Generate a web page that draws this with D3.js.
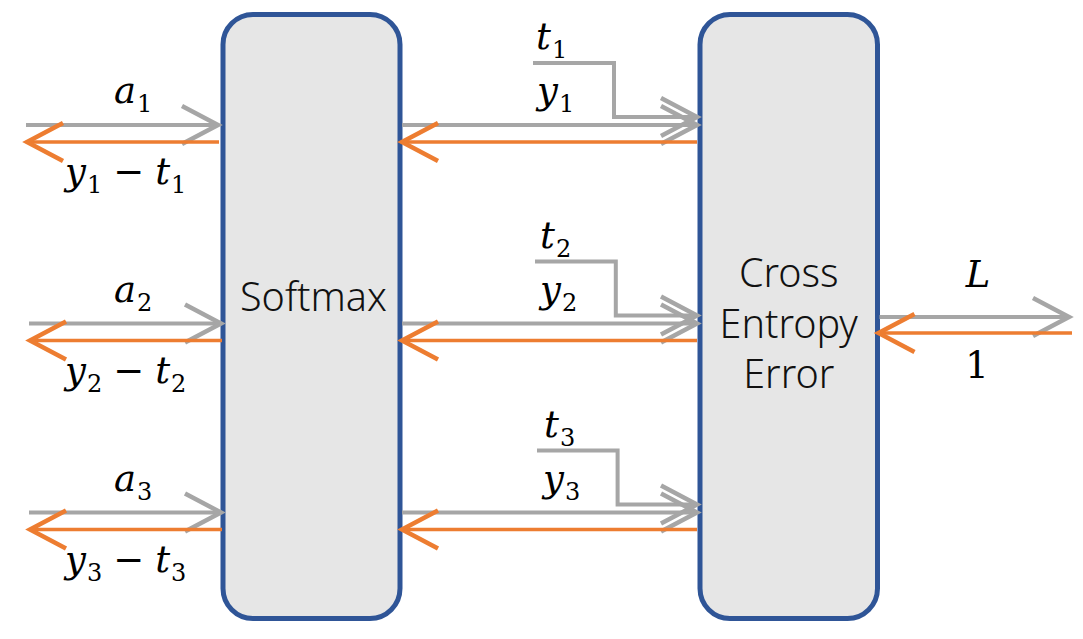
<!DOCTYPE html>
<html>
<head>
<meta charset="utf-8">
<script src="https://cdn.jsdelivr.net/npm/d3@7"></script>
<style>
  html, body { margin: 0; padding: 0; background: #ffffff; }
  svg { display: block; }
</style>
</head>
<body>
<script>
// ---- data ----
const rowIndices = ["1", "2", "3"];
const forwardInputSymbol = "a";
const outputSymbol = "y";
const targetSymbol = "t";
const boxNames = ["Softmax", "Cross Entropy Error"];
const boxLabelLines = [["Softmax"], ["Cross", "Entropy", "Error"]];
const lossLabel = "L";
const lossGradLabel = "1";

// ---- layout ----
const W = 1083, H = 639;
const GRAY = "#a6a6a6", ORANGE = "#ed7d31", BOX_FILL = "#e6e6e6", BOX_STROKE = "#2f5597";
const MATH_FONT = "'DejaVu Serif', serif";
const TEXT_FONT = "'Noto Sans', sans-serif";
const MAIN = 37, SUB = 24, SUBDY = 9;

const svg = d3.select("body").append("svg").attr("width", W).attr("height", H);

const rowY = d3.scaleOrdinal().domain(rowIndices).range([125, 323.5, 512.5]);
const boxX = d3.scaleOrdinal().domain(boxNames).range([[223, 400], [700, 877.5]]);
const boxTop = 14.5, boxBottom = 618.5;
const gradGap = 17; // orange line below gray line
const tGap = 62;    // t line above y line

// boxes
svg.selectAll("rect.box").data(boxNames).join("rect")
  .attr("class", "box")
  .attr("x", d => boxX(d)[0]).attr("y", boxTop)
  .attr("width", d => boxX(d)[1] - boxX(d)[0]).attr("height", boxBottom - boxTop)
  .attr("rx", 30).attr("ry", 30)
  .attr("fill", BOX_FILL).attr("stroke", BOX_STROKE).attr("stroke-width", 5);

// box labels
boxNames.forEach((b, i) => {
  const cx = (boxX(b)[0] + boxX(b)[1]) / 2 + (i === 0 ? 2 : 0);
  const lines = boxLabelLines[i];
  const baseY = i === 0 ? 311 : 287;
  lines.forEach((ln, j) => {
    svg.append("text").attr("x", cx).attr("y", baseY + j * 50.5)
      .attr("text-anchor", "middle")
      .attr("font-family", TEXT_FONT).attr("font-weight", 300).attr("font-size", 39.5)
      .attr("fill", "#111").text(ln);
  });
});

// arrow helper
function arrow(g, x1, y1, x2, y2, color, width, head) {
  g.append("line").attr("x1", x1).attr("y1", y1).attr("x2", x2).attr("y2", y2)
    .attr("stroke", color).attr("stroke-width", width);
  const dir = Math.sign(x2 - x1);
  const hx = 36 * dir, hy = 19;
  g.append("path")
    .attr("d", `M${x2 - hx},${y2 - hy}L${x2},${y2}L${x2 - hx},${y2 + hy}`)
    .attr("fill", "none").attr("stroke", color).attr("stroke-width", head)
    .attr("stroke-linejoin", "miter");
}

// math label helper: parts [{t, type}] type: 'i' italic main, 's' subscript, 'o' operator
function mathLabel(x, y, parts, anchor) {
  const t = svg.append("text").attr("x", x).attr("y", y)
    .attr("font-family", MATH_FONT).attr("fill", "#000")
    .attr("text-anchor", anchor || "start");
  let shifted = false;
  parts.forEach(p => {
    const ts = t.append("tspan").text(p.t);
    if (p.type === "i") {
      ts.attr("font-style", "italic").attr("font-size", MAIN);
      if (shifted) { ts.attr("dy", -SUBDY); shifted = false; }
    } else if (p.type === "s") {
      ts.attr("font-size", SUB).attr("dy", SUBDY).attr("dx", 1);
      shifted = true;
    } else {
      ts.attr("font-size", MAIN).attr("dx", 11);
      if (shifted) { ts.attr("dy", -SUBDY); shifted = false; }
    }
    if (p.dx) ts.attr("dx", p.dx);
  });
  return t;
}

const g = svg.append("g");
const sm = boxX(boxNames[0]), ce = boxX(boxNames[1]);

rowIndices.forEach((k, i) => {
  const yG = rowY(k), yO = yG + gradGap;
  const leftStart = i === 0 ? 26 : 29;
  const leftEnd = sm[0] - 4 + (i === 0 ? -1 : 2);
  // left: forward input a_k and gradient y_k - t_k
  arrow(g, leftStart, yG, leftEnd, yG, GRAY, 4, 4.5);
  arrow(g, leftEnd + 1, yO, leftStart + 1, yO, ORANGE, 3.5, 4.5);
  // middle: y_k forward, gradient back
  const ms = sm[1] + 2, me = ce[0] - 3;
  // t_k bent line
  const tStart = 533 + i * 2, tBend = 614 + i * 1.8;
  g.append("path")
    .attr("d", `M${tStart},${yG - tGap}H${tBend}V${yG - 8}H${me}`)
    .attr("fill", "none").attr("stroke", GRAY).attr("stroke-width", 4);
  g.append("path")
    .attr("d", `M${me - 36},${yG - 8 - 19}L${me},${yG - 8}L${me - 36},${yG - 8 + 19}`)
    .attr("fill", "none").attr("stroke", GRAY).attr("stroke-width", 4.5);
  arrow(g, ms, yG, me, yG, GRAY, 4, 4.5);
  arrow(g, me, yO, ms, yO, ORANGE, 3.5, 4.5);

  // labels
  mathLabel(114, yG - 22, [{t: forwardInputSymbol, type: "i"}, {t: k, type: "s"}]);
  mathLabel(65, yO + 42, [{t: outputSymbol, type: "i"}, {t: k, type: "s"}, {t: "−", type: "o"}, {t: targetSymbol, type: "i", dx: 11}, {t: k, type: "s"}]);
  mathLabel(536 + i * 4, yG - tGap - 14, [{t: targetSymbol, type: "i"}, {t: k, type: "s"}]);
  mathLabel(537 + i * 3, yG - 22, [{t: outputSymbol, type: "i"}, {t: k, type: "s"}]);
});

// right: loss
const yL = 317;
arrow(g, ce[1] + 2, yL, 1069, yL, GRAY, 4, 4.5);
arrow(g, 1072, yL + 16, ce[1] + 1, yL + 16, ORANGE, 3.5, 4.5);
mathLabel(978, yL - 30, [{t: lossLabel, type: "i"}], "middle");
svg.append("text").attr("x", 977).attr("y", yL + 61).attr("text-anchor", "middle")
  .attr("font-family", MATH_FONT).attr("font-size", MAIN).text(lossGradLabel);
</script>
</body>
</html>
